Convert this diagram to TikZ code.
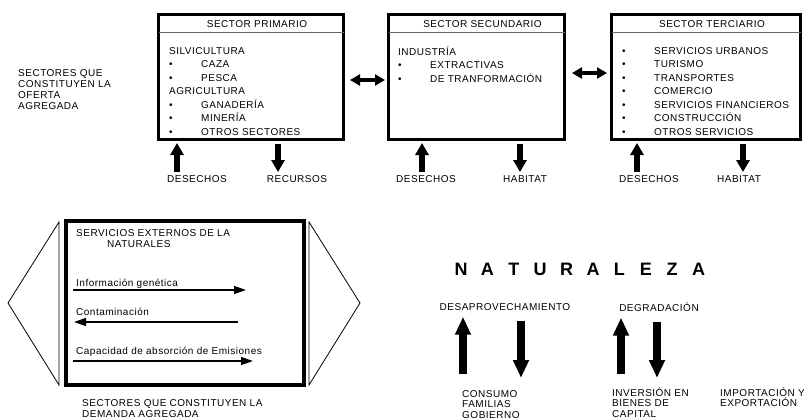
\documentclass[tikz,border=0pt]{standalone}
\usepackage{fontspec}
\setmainfont{Liberation Sans}[LetterSpace=5]
\usetikzlibrary{arrows.meta,calc}

\tikzset{
  txt/.style={inner sep=0pt, font=\fontsize{10}{11}\selectfont, align=left},
  liste/.style={txt, anchor=west, font=\fontsize{10}{13.5}\selectfont},
  sector/.style={draw, line width=3pt, inner sep=0pt, outer sep=0pt, minimum height=125},
  sep/.style={line width=0.8pt, black!60},
  fleche/.style={line width=6.5pt, -{Triangle[width=13pt,length=12pt]}},
  grossefleche/.style={line width=8pt, -{Triangle[width=15pt,length=18pt]}},
  doublefleche/.style={line width=4.5pt, {Triangle[width=11pt,length=10pt]}-{Triangle[width=11pt,length=10pt]}},
  flux/.style={line width=1.3pt, -{Triangle[width=8pt,length=12pt]}},
  nat/.style={inner sep=0pt, font=\fontsize{18}{20}\selectfont\bfseries},
}
\newcommand{\puce}{\makebox[32pt][l]{\textbullet}}

\begin{document}
\begin{tikzpicture}[x=1pt, y=-1pt]
  \useasboundingbox (0,0) rectangle (804,420);

  % Secteurs de l'offre
  \node[sector, minimum width=185] (prim) at (251,77) {};
  \node[sector, minimum width=176] (sec) at (476.5,77) {};
  \node[sector, minimum width=189] (ter) at (706,77) {};

  % Titres des secteurs
  \foreach \b/\t in {prim/SECTOR PRIMARIO, sec/SECTOR SECUNDARIO, ter/SECTOR TERCIARIO} {
    \draw[sep] ($(\b.north west)+(0,17.5)$) -- ($(\b.north east)+(0,17.5)$);
    \node[txt] (\b-titre) at ($(\b.north)+(6,10)$) {\t};
  }

  % Contenu des secteurs
  \node[liste] (prim-l) at (169,91.5) {SILVICULTURA\\\puce CAZA\\\puce PESCA\\AGRICULTURA\\\puce GANADERÍA\\\puce MINERÍA\\\puce OTROS SECTORES};
  \node[liste] (sec-l) at (398,64.5) {INDUSTRÍA\\\puce EXTRACTIVAS\\\puce DE TRANFORMACIÓN};
  \node[liste] (ter-l) at (622,91.5) {\puce SERVICIOS URBANOS\\\puce TURISMO\\\puce TRANSPORTES\\\puce COMERCIO\\\puce SERVICIOS FINANCIEROS\\\puce CONSTRUCCIÓN\\\puce OTROS SERVICIOS};

  % Texte de gauche
  \node[txt, anchor=west] (offre) at (18,90) {SECTORES QUE\\CONSTITUYEN LA\\OFERTA\\AGREGADA};

  % Liens entre secteurs
  \draw[doublefleche] ($(prim.east)+(6.5,3)$) -- ($(sec.west)+(-3.5,3)$);
  \draw[doublefleche] ($(sec.east)+(7.5,-4)$) -- ($(ter.west)+(-4.5,-4)$);

  % Fleches sous les secteurs
  \node[txt] (des1) at (197,179) {DESECHOS};
  \node[txt] (rec) at (297,179) {RECURSOS};
  \node[txt] (des2) at (426,179) {DESECHOS};
  \node[txt] (hab2) at (525,179) {HABITAT};
  \node[txt] (des3) at (649,179) {DESECHOS};
  \node[txt] (hab3) at (739,179) {HABITAT};
  \foreach \b/\xa/\xb in {prim/177/278, sec/422/520, ter/637/743} {
    \coordinate (\b-haut) at (\xa,172);
    \coordinate (\b-bas) at (\xb,172);
    \draw[fleche] (\b-haut) -- ($(\b-haut |- \b.south)+(0,3.5)$);
    \draw[fleche] ($(\b-bas |- \b.south)+(0,4.5)$) -- (\b-bas);
  }

  % Services externes
  \node[draw, line width=4pt, inner sep=0pt, outer sep=0pt, minimum width=238, minimum height=164] (ext) at (185,303) {};
  \draw[line width=0.8pt] (59,222) -- (8,303) -- (59,385) -- cycle;
  \draw[line width=0.8pt] (309,222) -- (360,303) -- (309,385) -- cycle;
  \node[txt, anchor=west] (ext-t) at (76,238.5) {SERVICIOS EXTERNOS DE LA\\\hspace*{31pt}NATURALES};
  \node[txt, anchor=west] (gen) at (76,284) {Información genética};
  \draw[flux] ($(gen.west)+(-3,6)$) -- ++(173,0);
  \node[txt, anchor=west] (cont) at (76,312) {Contaminación};
  \draw[flux] ($(cont.west)+(162,10)$) -- ++(-164,0);
  \node[txt, anchor=west] (abs) at (76,352) {Capacidad de absorción de Emisiones};
  \draw[flux] ($(abs.west)+(-3,9)$) -- ++(180,0);
  \node[txt, anchor=west] (demande) at (82,409) {SECTORES QUE CONSTITUYEN LA\\DEMANDA AGREGADA};

  % Nature
  \foreach \l [count=\i from 0] in {N,A,T,U,R,A,L,E,Z,A}
    \node[nat] (nat\i) at ({461+26.4*\i},269) {\l};

  \node[txt] (desap) at (505,307) {DESAPROVECHAMIENTO};
  \node[txt] (degr) at (659,307) {DEGRADACIÓN};
  \coordinate (c-haut) at (463,374);
  \coordinate (c-bas) at (521,378);
  \coordinate (i-haut) at (621,374);
  \coordinate (i-bas) at (657,378);
  \draw[grossefleche] (c-haut) -- ($(c-haut |- desap.south)+(0,6)$);
  \draw[grossefleche] ($(c-bas |- desap.south)+(0,10)$) -- (c-bas);
  \draw[grossefleche] (i-haut) -- ($(i-haut |- degr.south)+(0,6)$);
  \draw[grossefleche] ($(i-bas |- degr.south)+(0,10)$) -- (i-bas);

  \node[txt, anchor=north west, font=\fontsize{10}{10.5}\selectfont] (cons) at (462,390) {CONSUMO\\FAMILIAS\\GOBIERNO};
  \node[txt, anchor=north west, font=\fontsize{10}{10.5}\selectfont] (inv) at (612,387.6) {INVERSIÓN EN\\BIENES DE\\CAPITAL};
  \node[txt, anchor=north west, font=\fontsize{10}{10.5}\selectfont] (imp) at (720,387.6) {IMPORTACIÓN Y\\EXPORTACIÓN};
\end{tikzpicture}
\end{document}
